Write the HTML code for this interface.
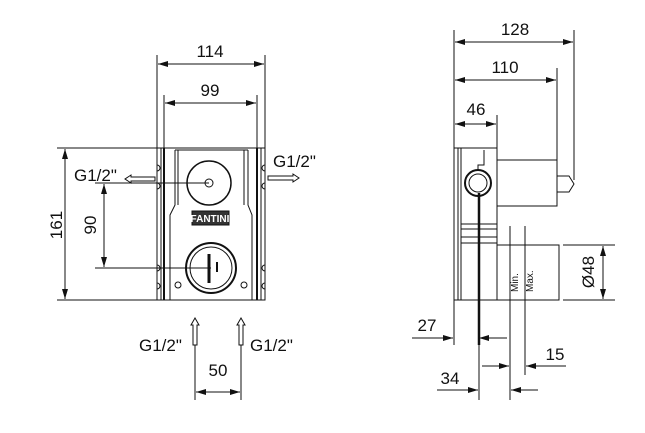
<!DOCTYPE html>
<html><head><style>html,body{margin:0;padding:0;background:#fff}svg{display:block}text{font-family:"Liberation Sans",sans-serif;fill:#111}</style></head>
<body>
<svg width="645" height="433" viewBox="0 0 645 433" xmlns="http://www.w3.org/2000/svg">
<defs>
<marker id="a" viewBox="0 0 10 6" refX="10" refY="3" markerWidth="11" markerHeight="6" orient="auto-start-reverse" markerUnits="userSpaceOnUse"><path d="M0,0 L10,3 L0,6 z" fill="#111"/></marker>
</defs>
<g stroke="#111" stroke-width="1" fill="none">
<line x1="157" y1="55" x2="157" y2="148"/><line x1="265" y1="55" x2="265" y2="148"/>
<line x1="158" y1="64" x2="264" y2="64" marker-start="url(#a)" marker-end="url(#a)"/>
<line x1="164" y1="95" x2="164" y2="148"/><line x1="257" y1="95" x2="257" y2="148"/>
<line x1="165" y1="103" x2="256" y2="103" marker-start="url(#a)" marker-end="url(#a)"/>
<line x1="57" y1="148" x2="157" y2="148"/><line x1="57" y1="300" x2="157" y2="300"/>
<line x1="65" y1="149" x2="65" y2="299" marker-start="url(#a)" marker-end="url(#a)"/>
<line x1="95" y1="183" x2="209" y2="183"/><line x1="95" y1="268" x2="211" y2="268"/>
<line x1="104" y1="184" x2="104" y2="267" marker-start="url(#a)" marker-end="url(#a)"/>
<rect x="157" y="148" width="108" height="152"/>
<line x1="161" y1="148" x2="161" y2="300"/><line x1="261" y1="148" x2="261" y2="300"/>
<line x1="164" y1="148" x2="164" y2="300" stroke-width="2"/><line x1="257" y1="148" x2="257" y2="300" stroke-width="2"/>
<path d="M175,150 L175,205 L170,215 L170,300 M248,150 L248,205 L252,215 L252,300"/>
<path d="M178,150 L178,205 M244,150 L244,205"/>
<line x1="175" y1="150" x2="248" y2="150"/>
<circle cx="209" cy="183" r="22" stroke-width="1.5"/>
<circle cx="209" cy="183" r="4"/>
<circle cx="211" cy="268" r="25" stroke-width="2"/>
<circle cx="211" cy="268" r="21"/>
<line x1="209" y1="254" x2="209" y2="283" stroke-width="3"/>
<line x1="217" y1="262" x2="217" y2="272" stroke-width="2"/>
<circle cx="178" cy="285" r="3"/><circle cx="244" cy="285" r="3"/>
<rect x="192" y="211" width="37" height="14" fill="#333"/>
<path d="M157,165 a3,3 0 0 1 0,6 M157,183 a3,3 0 0 1 0,6 M157,265 a3,3 0 0 1 0,6 M157,283 a3,3 0 0 1 0,6 M265,165 a3,3 0 0 0 0,6 M265,183 a3,3 0 0 0 0,6 M265,265 a3,3 0 0 0 0,6 M265,283 a3,3 0 0 0 0,6"/>
<path d="M155,177 L131,177 L131,175 L125,179 L131,183 L131,181 L155,181 z"/>
<path d="M268,176 L293,176 L293,174 L299,178 L293,182 L293,180 L268,180 z"/>
<path d="M193,345 L193,325 L191,325 L195,318 L199,325 L197,325 L197,345 z"/>
<path d="M239,345 L239,325 L237,325 L241,318 L245,325 L243,325 L243,345 z"/>
<line x1="195" y1="345" x2="195" y2="400"/><line x1="241" y1="345" x2="241" y2="400"/>
<line x1="196" y1="392" x2="240" y2="392" marker-start="url(#a)" marker-end="url(#a)"/>
<line x1="454" y1="30" x2="454" y2="345"/>
<line x1="574" y1="30" x2="574" y2="180"/>
<line x1="557" y1="68" x2="557" y2="160"/>
<line x1="497" y1="115" x2="497" y2="148"/>
<line x1="455" y1="42" x2="573" y2="42" marker-start="url(#a)" marker-end="url(#a)"/>
<line x1="455" y1="80" x2="556" y2="80" marker-start="url(#a)" marker-end="url(#a)"/>
<line x1="455" y1="124" x2="496" y2="124" marker-start="url(#a)" marker-end="url(#a)"/>
<rect x="454" y="148" width="43" height="152"/>
<line x1="458" y1="148" x2="458" y2="300"/><line x1="461" y1="148" x2="461" y2="300"/>
<line x1="461" y1="224" x2="497" y2="224"/><line x1="461" y1="229" x2="497" y2="229"/><line x1="461" y1="237" x2="497" y2="237"/><line x1="461" y1="243" x2="497" y2="243"/>
<rect x="497" y="160" width="60" height="46"/>
<path d="M557,176 L569,176 L574,184 L569,192 L557,192"/>
<circle cx="478" cy="183" r="13" stroke-width="2"/><circle cx="478" cy="183" r="9"/>
<path d="M484,150 L484,165 L478,165 L478,170"/>
<line x1="479" y1="193" x2="479" y2="345" stroke-width="2.5"/>
<rect x="497" y="245" width="62" height="55"/>
<line x1="510" y1="226" x2="510" y2="375"/><line x1="525" y1="226" x2="525" y2="375"/>
<line x1="510" y1="300" x2="510" y2="400"/>
<line x1="563" y1="245" x2="615" y2="245"/><line x1="563" y1="300" x2="615" y2="300"/>
<line x1="603" y1="246" x2="603" y2="299" marker-start="url(#a)" marker-end="url(#a)"/>
<line x1="479" y1="340" x2="479" y2="400"/>
<line x1="412" y1="338" x2="453" y2="338" marker-end="url(#a)"/>
<line x1="479" y1="338" x2="507" y2="338"/>
<line x1="479" y1="338" x2="490" y2="338" marker-start="url(#a)"/>
<line x1="482" y1="366" x2="509" y2="366" marker-end="url(#a)"/>
<line x1="526" y1="366" x2="566" y2="366" marker-start="url(#a)"/>
<line x1="437" y1="390" x2="478" y2="390" marker-end="url(#a)"/>
<line x1="511" y1="390" x2="538" y2="390" marker-start="url(#a)"/>
</g>
<g font-size="17">
<text x="210" y="57" text-anchor="middle">114</text>
<text x="210" y="96" text-anchor="middle">99</text>
<text x="515" y="35" text-anchor="middle">128</text>
<text x="505" y="73" text-anchor="middle">110</text>
<text x="476" y="115" text-anchor="middle">46</text>
<text x="74" y="181">G1/2"</text>
<text x="273" y="167">G1/2"</text>
<text x="139" y="351">G1/2"</text>
<text x="250" y="351">G1/2"</text>
<text x="218" y="376" text-anchor="middle">50</text>
<text x="427" y="331" text-anchor="middle">27</text>
<text x="555" y="360" text-anchor="middle">15</text>
<text x="450" y="384" text-anchor="middle">34</text>
<text transform="translate(62,225) rotate(-90)" text-anchor="middle">161</text>
<text transform="translate(96,225) rotate(-90)" text-anchor="middle">90</text>
<text transform="translate(594,272) rotate(-90)" text-anchor="middle">Ø48</text>
</g>
<text x="210" y="222" text-anchor="middle" font-size="10" font-weight="bold" style="fill:#fff">FANTINI</text>
<text transform="translate(518,292) rotate(-90)" font-size="10">Min.</text>
<text transform="translate(533,292) rotate(-90)" font-size="10">Max.</text>
</svg>
</body></html>
